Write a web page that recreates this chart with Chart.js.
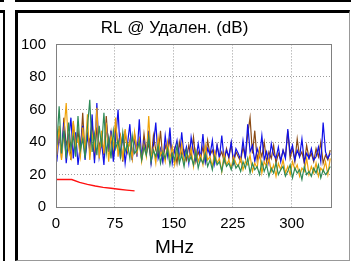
<!DOCTYPE html>
<html>
<head>
<meta charset="utf-8">
<script src="https://cdn.jsdelivr.net/npm/chart.js@4/dist/chart.umd.min.js"></script>
<style>
  html, body { margin: 0; padding: 0; background: #fff; }
  body { width: 351px; height: 261px; position: relative; overflow: hidden; }
  .ln { position: absolute; background: #000; }
  #panel { position: absolute; left: 15px; top: 10px; width: 331px; height: 247px;
           border-left: 3px solid #000; border-top: 3px solid #000;
           border-right: 1px solid #999; border-bottom: 1px solid #999; }
  #c { position: absolute; left: 18px; top: 13px; }
</style>
</head>
<body>
<div class="ln" style="left:15px;top:0;width:336px;height:2px"></div>
<div class="ln" style="left:0;top:0;width:4px;height:2px"></div>
<div class="ln" style="left:0;top:10px;width:5px;height:3px"></div>
<div class="ln" style="left:3px;top:10px;width:2px;height:251px"></div>
<div id="panel"></div>
<canvas id="c" width="330" height="246"></canvas>
<script>
const freq = [1,4,7,10,13,16,19,22,25,28,31,34,37,40,43,46,49,52,55,58,61,64,67,70,73,76,79,82,85,88,91,94,97,100,
  103,106,109,112,115,118,121,124,127,130,133,136,139,142,145,148,151,154,157,160,163,166,169,172,175,178,181,184,187,190,193,196,199,202,205,208,211,214,217,220,223,226,229,
  232,235,238,241,244,247,250,253,256,259,262,265,268,271,274,277,280,283,286,289,292,295,298,301,304,307,310,313,316,319,322,325,328,331,334,337,340,343,346,349];

const green = [38,62,33,47,30,52,36,44,31,56,35,42,30,49,66,34,45,32,50,37,58,33,43,30,47,36,41,31,46,34,39,30,44,33,
  35,40,29,37,32,43,28,35,31,38,27,34,30,36,26,33,29,38,27,32,25,35,28,31,26,34,24,30,27,33,25,29,23,31,26,28,22,30,25,27,23,29,24,
  26,22,28,24,30,21,27,23,25,20,28,22,26,19,24,21,27,20,23,25,19,22,26,18,24,21,23,17,25,20,22,19,24,21,26,18,23,20,22,25];

const orange = [32,50,29,46,64,35,30,53,38,42,31,49,34,57,29,45,36,61,30,47,33,52,28,44,37,55,31,43,29,48,35,40,30,46,
  33,41,28,38,31,56,30,36,27,43,32,35,28,40,30,37,26,34,29,39,27,33,30,36,25,35,28,32,26,38,29,31,25,34,27,30,22,33,26,29,24,31,27,
  25,30,23,28,26,32,22,27,24,35,21,28,25,30,22,26,19,27,23,29,21,25,20,28,23,26,19,24,22,30,20,25,21,27,19,24,22,28,20,30];

const blue = [28,45,33,52,27,41,55,30,46,26,38,50,29,44,35,57,27,64,31,40,26,52,34,47,28,42,60,30,45,27,39,51,29,43,
  31,54,29,40,33,47,27,38,52,30,36,28,44,32,49,27,35,41,29,46,31,37,27,43,34,29,39,30,45,28,36,32,41,27,38,30,44,29,35,31,40,28,36,
  33,29,41,30,51,34,38,28,36,31,44,29,34,27,39,32,30,37,28,35,30,48,33,38,29,35,31,42,28,33,30,36,29,31,37,28,52,34,30,33];

const brown = [35,48,30,55,38,44,29,52,36,47,33,58,31,45,40,53,29,49,37,43,32,56,35,46,30,50,38,44,28,47,34,41,30,45,
  36,42,30,45,33,39,28,44,35,31,47,29,38,33,42,30,36,27,40,32,35,29,38,31,43,28,34,30,37,28,41,32,35,29,38,31,34,28,36,30,39,27,34,
  31,28,37,30,45,55,33,47,29,36,31,40,28,34,30,38,27,33,29,35,31,47,30,36,28,42,31,34,27,38,30,33,28,36,31,40,27,32,29,35];

const limitFreq = [1,20,30,40,50,60,70,80,90,100];
const limitVal  = [17,17,15.2,14,13,12.2,11.6,11,10.5,10];

const xTicks = [0,75,150,225,300];
const yTicks = [0,20,40,60,80,100];

function pts(xs, ys) { return xs.map((x, i) => ({ x: x, y: ys[i] })); }

const FONT = "'Liberation Sans', Arial, sans-serif";

const frame = {
  id: 'frame',
  afterDatasetsDraw(chart) {
    const a = chart.chartArea, ctx = chart.ctx;
    ctx.save();
    ctx.strokeStyle = '#808080';
    ctx.lineWidth = 1;
    ctx.strokeRect(Math.round(a.left) + 0.5, Math.round(a.top) + 0.5,
                   Math.round(a.right - a.left), Math.round(a.bottom - a.top));
    ctx.restore();
  }
};

function line(data, color, w) {
  return { data: data, borderColor: color, borderWidth: w, pointRadius: 0, tension: 0, fill: false };
}

new Chart(document.getElementById('c'), {
  type: 'line',
  data: {
    datasets: [
      line(pts(freq, green), '#2e8b57', 1.2),
      line(pts(freq, orange), '#f0a30a', 1.2),
      line(pts(freq, blue), '#1010e8', 1.2),
      line(pts(freq, brown), '#8b4a14', 1.2),
      line(pts(limitFreq, limitVal), '#ff1010', 1.4)
    ]
  },
  options: {
    responsive: false,
    animation: false,
    layout: { padding: { left: 0, right: 17, top: 0, bottom: 0 } },
    plugins: {
      legend: { display: false },
      tooltip: { enabled: false },
      title: { display: true, text: 'RL @ Удален. (dB)', color: '#000',
               font: { family: FONT, size: 17, weight: 'normal' }, padding: { top: 5, bottom: 6 } },
      subtitle: { display: true, position: 'bottom', text: 'MHz', color: '#000',
                  font: { family: FONT, size: 19, weight: 'normal' }, padding: { top: 0, bottom: 0 } }
    },
    scales: {
      x: {
        type: 'linear', min: 0, max: 350,
        afterBuildTicks: s => { s.ticks = xTicks.map(v => ({ value: v })); },
        afterFit: s => { s.height = 29; },
        grid: { color: '#9a9a9a', drawTicks: false },
        border: { display: false, dash: [1, 2] },
        ticks: { color: '#000', padding: 8, maxRotation: 0, font: { family: FONT, size: 15 } }
      },
      y: {
        min: 0, max: 100,
        afterBuildTicks: s => { s.ticks = yTicks.map(v => ({ value: v })); },
        afterFit: s => { s.width = 38; },
        grid: { color: '#9a9a9a', drawTicks: false },
        border: { display: false, dash: [1, 2] },
        ticks: { color: '#000', padding: 10, font: { family: FONT, size: 15 } }
      }
    }
  },
  plugins: [frame]
});
</script>
</body>
</html>
